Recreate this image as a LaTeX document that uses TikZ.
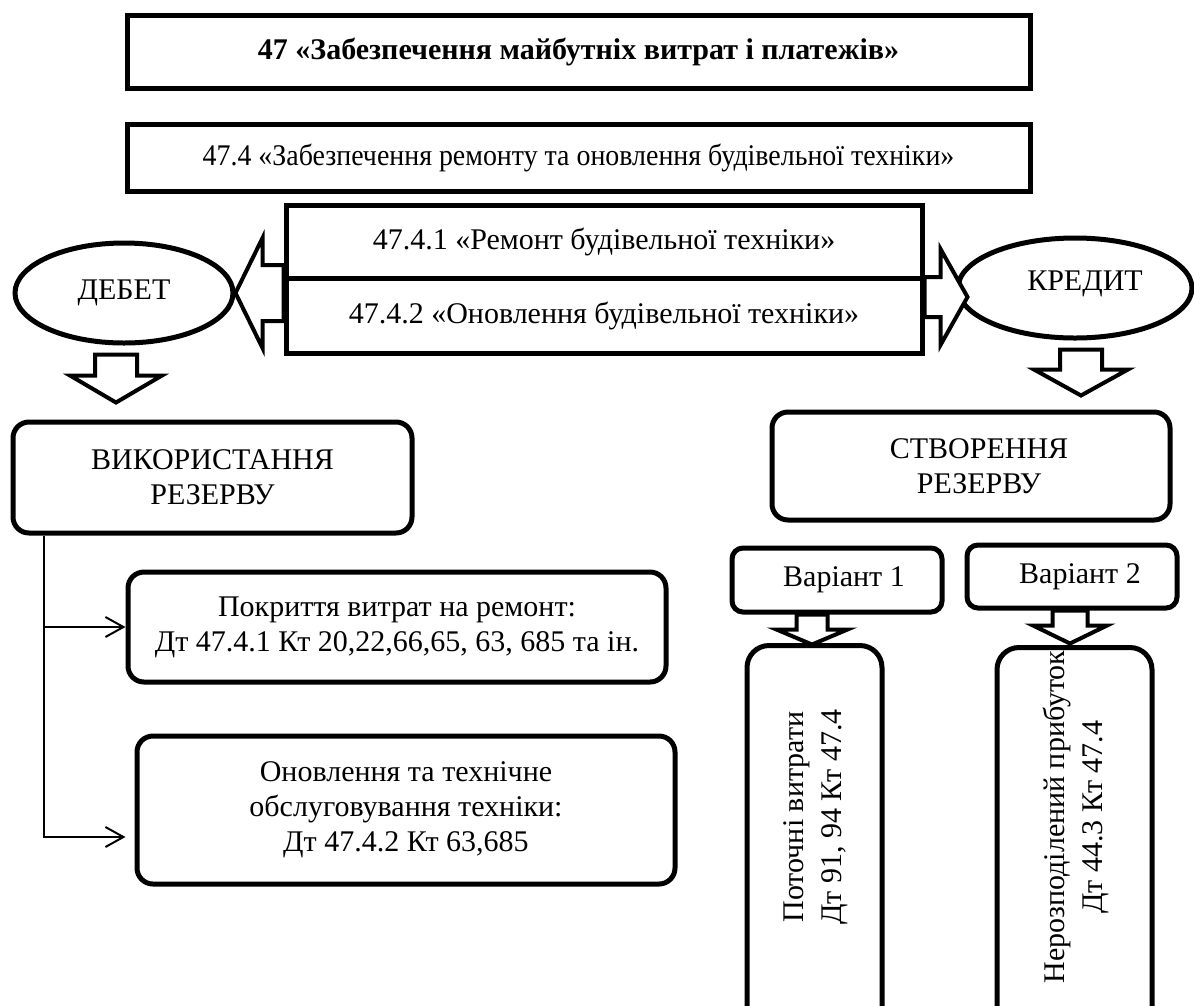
\documentclass[tikz,border=0pt]{standalone}
\usepackage{fontspec}
\setmainfont{Liberation Serif}
\newfontfamily\narrowfont[FakeStretch=0.93]{Liberation Serif}
\usetikzlibrary{calc,arrows.meta,shapes.geometric}

% hollow block arrow from #1 to #2 (shaft half width #3, head half width #4, head length #5)
\newcommand{\hollowarrow}[5]{%
  \coordinate (ha) at ($(#2)!#5!(#1)$);
  \draw[fatarrow] ($(#1)!#3!90:(#2)$) -- ($(ha)!#3!90:(#2)$) -- ($(ha)!#4!90:(#2)$) -- (#2)
    -- ($(ha)!#4!-90:(#2)$) -- ($(ha)!#3!-90:(#2)$) -- ($(#1)!#3!-90:(#2)$) -- cycle;
}

\begin{document}
\begin{tikzpicture}[x=1pt, y=-1pt,
    font=\fontsize{30}{35}\selectfont,
    box/.style={draw, line width=5pt, fill=white, align=center, inner sep=0pt}, % plain frame
    rbox/.style={box, rounded corners=16pt}, % rounded frame
    oval/.style={draw, ellipse, line width=5pt, fill=white, inner sep=0pt},
    fatarrow/.style={line width=4pt, fill=white, line join=miter},
    link/.style={line width=2pt, -{Straight Barb[length=18pt, width=20pt, line width=2pt]}}
]
\useasboundingbox (0,0) rectangle (1194,1005);
\fill[white] (0,0) rectangle (1194,1005);

% account and sub-accounts
\node[box, minimum width=903pt, minimum height=73pt] (acc) at (578.5,51.5)
    {\bfseries 47 «Забезпечення майбутніх витрат і платежів»};
\node[box, minimum width=903pt, minimum height=67pt] (sub) at (578.5,157.5)
    {\narrowfont 47.4 «Забезпечення ремонту та оновлення будівельної техніки»};
\node[box, minimum width=636pt, minimum height=73pt] (rem) at (604,241.5)
    {47.4.1 «Ремонт будівельної техніки»};
\node[box, minimum width=636pt, minimum height=75pt] (upd) at (604,315.5)
    {47.4.2 «Оновлення будівельної техніки»};

% debit / credit
\node[oval, minimum width=218pt, minimum height=100pt] (debet) at (124,293) {ДЕБЕТ};
\node[oval, minimum width=234pt, minimum height=100pt] (kredit) at (1075,288) {};
\node (kredit-txt) at ($(kredit.center)+(10,-4)$) {КРЕДИТ};

\coordinate (la) at (upd.west |- debet.east);
\coordinate (rb) at ($(kredit.west)+(12,9)$);
\coordinate (ra) at (upd.east |- rb);
\hollowarrow{la}{debet.east}{28pt}{55pt}{27pt}
\hollowarrow{ra}{rb}{20pt}{48pt}{27pt}

% left side: use of the reserve
\coordinate (d1) at ($(debet.south)+(-8,9)$);
\coordinate (d2) at ($(d1)+(0,48)$);
\hollowarrow{d1}{d2}{21pt}{46pt}{27pt}

\node[rbox, minimum width=399pt, minimum height=111pt] (vis) at (212.5,477.5) {ВИКОРИСТАННЯ\\РЕЗЕРВУ};
\node[rbox, minimum width=538pt, minimum height=110pt] (pokr) at (397,627)
    {Покриття витрат на ремонт:\\Дт 47.4.1 Кт 20,22,66,65, 63, 685 та ін.};
\node[rbox, minimum width=538pt, minimum height=148pt] (onov) at (406,810)
    {Оновлення та технічне\\обслуговування техніки:\\Дт 47.4.2 Кт 63,685};

\coordinate (trunk) at ($(vis.south west)+(33,0)$);
\coordinate (onov-in) at ($(onov.west)+(-9,27)$);
\draw[link] (trunk) |- (pokr.west);
\draw[link] (trunk) |- (onov-in);

% right side: creation of the reserve
\coordinate (k1) at ($(kredit.south)+(6,9)$);
\coordinate (k2) at ($(k1)+(0,46)$);
\hollowarrow{k1}{k2}{21pt}{47pt}{26pt}

\node[rbox, minimum width=398pt, minimum height=108pt] (stv) at (971,466) {\kern16pt СТВОРЕННЯ\\\kern16pt РЕЗЕРВУ};
\node[rbox, rounded corners=11pt, minimum width=210pt, minimum height=64pt] (var1) at (837,580) {\kern14pt Варіант 1};
\node[rbox, rounded corners=11pt, minimum width=210pt, minimum height=63pt] (var2) at (1072,576.5) {\kern16pt Варіант 2};

\node[rbox, rounded corners=22pt, minimum width=135pt, minimum height=400pt, anchor=north] (cost) at (814.5,643) {};
\node[rbox, rounded corners=22pt, minimum width=155pt, minimum height=400pt, anchor=north] (profit) at (1074.5,645) {};
\node[rotate=90, align=center, font=\fontsize{30}{38}\selectfont] (cost-txt) at ($(cost.north)+(1,174)$)
    {Поточні витрати\\Дт 91, 94 Кт 47.4};
\node[rotate=90, align=center, font=\fontsize{30}{38}\selectfont] (profit-txt) at ($(profit.north)+(1.5,172)$)
    {Нерозподілений прибуток\\Дт 44.3 Кт 47.4};

\coordinate (v1a) at ($(var1.south)+(-25,0)$);
\coordinate (v1b) at ($(v1a)+(0,30)$);
\hollowarrow{v1a}{v1b}{15.5pt}{35.5pt}{15pt}
\coordinate (v2a) at ($(var2.south)+(-2,0)$);
\coordinate (v2b) at ($(v2a)+(0,33)$);
\hollowarrow{v2a}{v2b}{17.5pt}{37pt}{18pt}

\end{tikzpicture}
\end{document}
